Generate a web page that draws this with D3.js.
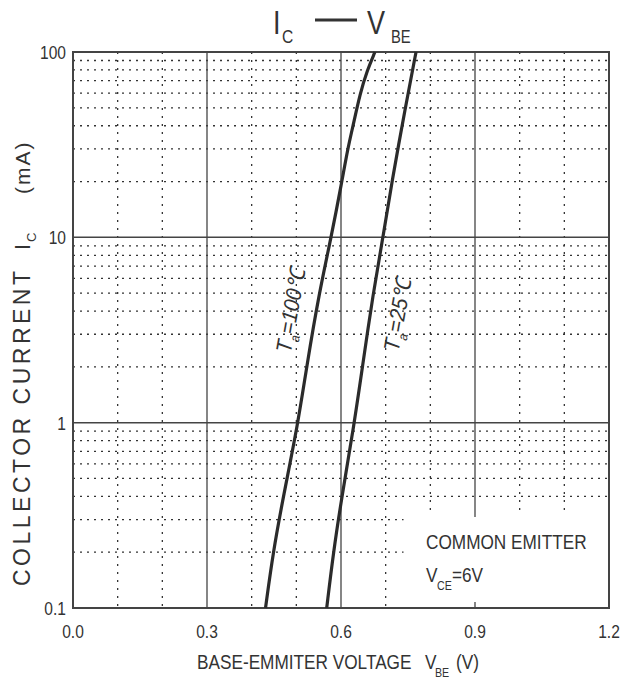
<!DOCTYPE html>
<html>
<head>
<meta charset="utf-8">
<script src="https://cdn.jsdelivr.net/npm/d3@7"></script>
<style>
  body { margin: 0; background: #fff; }
  svg { display: block; }
  text { fill: #333; font-family: "Liberation Sans", Arial, sans-serif; white-space: pre; }
</style>
</head>
<body>
<svg width="620" height="682"></svg>
<script>
// Ic - Vbe curves

// collector current (mA) and base-emitter voltage (V) for each temperature
var ic100 = [0.1, 0.2, 0.4, 1, 2, 5, 10, 20, 30, 40, 60, 80, 100];
var vbe100 = [0.431, 0.448, 0.471, 0.504, 0.523, 0.551, 0.578, 0.602, 0.615, 0.627, 0.643, 0.659, 0.676];

var ic25 = [0.1, 0.2, 0.4, 1, 2, 5, 10, 20, 50, 100];
var vbe25 = [0.568, 0.583, 0.602, 0.630, 0.648, 0.672, 0.694, 0.714, 0.744, 0.768];

var xTicks = [0.0, 0.3, 0.6, 0.9, 1.2];
var yTicks = [0.1, 1, 10, 100];

var svg = d3.select('svg');

var pLeft = 73, pRight = 609, pTop = 52, pBottom = 608;
var squeeze = 0.82; // narrow look of the datasheet font

var x = d3.scaleLinear().domain([0, 1.2]).range([pLeft, pRight]);
var y = d3.scaleLog().domain([0.1, 100]).range([pBottom, pTop]);

// text drawn narrow: placed by transform then squeezed
function narrowText(px, py, size) {
    return svg.append('text')
        .attr('transform', 'translate(' + px + ',' + py + ') scale(' + squeeze + ',1)')
        .style('font-size', size + 'px');
}

var grid = svg.append('g');

// minor horizontal dotted lines (2..9 in every decade)
var minorY = [];
[0.1, 1, 10].forEach(function (d) {
    for (var k = 2; k <= 9; k++) minorY.push(+(k * d).toFixed(3));
});

grid.selectAll('line.hmin')
    .data(minorY)
    .enter()
    .append('line')
    .attr('x1', x(0))
    .attr('x2', function (d) { return d < 0.35 ? x(0.74) : x(1.2); })
    .attr('y1', function (d) { return y(d); })
    .attr('y2', function (d) { return y(d); })
    .style('stroke', '#333')
    .style('stroke-width', 1.3)
    .style('stroke-dasharray', '2,5');

// minor vertical dotted lines
var minorX = [0.1, 0.2, 0.4, 0.5, 0.7, 0.8, 1.0, 1.1];

grid.selectAll('line.vmin')
    .data(minorX)
    .enter()
    .append('line')
    .attr('x1', function (d) { return x(d); })
    .attr('x2', function (d) { return x(d); })
    .attr('y1', y(100))
    .attr('y2', function (d) { return d > 0.75 ? y(0.32) : y(0.1); })
    .style('stroke', '#333')
    .style('stroke-width', 1.3)
    .style('stroke-dasharray', '2,6');

// solid grid lines
grid.selectAll('line.hmaj')
    .data([1, 10])
    .enter()
    .append('line')
    .attr('x1', x(0))
    .attr('x2', x(1.2))
    .attr('y1', function (d) { return y(d); })
    .attr('y2', function (d) { return y(d); })
    .style('stroke', '#444')
    .style('stroke-width', 1.5);

grid.selectAll('line.vmaj')
    .data([0.3, 0.6, 0.9])
    .enter()
    .append('line')
    .attr('x1', function (d) { return x(d); })
    .attr('x2', function (d) { return x(d); })
    .attr('y1', y(100))
    .attr('y2', function (d) { return d > 0.75 ? y(0.31) : y(0.1); })
    .style('stroke', '#444')
    .style('stroke-width', 1.3);

// little tick at 0.9 on the bottom edge
grid.append('line')
    .attr('x1', x(0.9))
    .attr('x2', x(0.9))
    .attr('y1', y(0.1))
    .attr('y2', y(0.1) - 6)
    .style('stroke', '#444')
    .style('stroke-width', 1.3);

// frame
svg.append('rect')
    .attr('x', pLeft)
    .attr('y', pTop)
    .attr('width', pRight - pLeft)
    .attr('height', pBottom - pTop)
    .style('fill', 'none')
    .style('stroke', '#444')
    .style('stroke-width', 2);

// curves
var line = d3.line()
    .x(function (d) { return x(d[0]); })
    .y(function (d) { return y(d[1]); })
    .curve(d3.curveBasis);

[[vbe100, ic100], [vbe25, ic25]].forEach(function (s) {
    svg.append('path')
        .datum(d3.zip(s[0], s[1]))
        .attr('d', line)
        .style('fill', 'none')
        .style('stroke', '#2b2b2b')
        .style('stroke-width', 3.2);
});

// tick labels
xTicks.forEach(function (d) {
    narrowText(x(d), 638, 19)
        .attr('text-anchor', 'middle')
        .text(d.toFixed(1));
});

yTicks.forEach(function (d) {
    narrowText(66, y(d) + 7, 19)
        .attr('text-anchor', 'end')
        .text(d);
});

// x axis title
narrowText(197, 669, 21).text('BASE-EMMITER VOLTAGE');
narrowText(425, 669, 21).text('V');
narrowText(435, 677, 13).text('BE');
narrowText(456, 669, 21).text('(V)');

// y axis title, rotated
function sideText(py, size, spacing) {
    return svg.append('text')
        .attr('transform', 'translate(30,' + py + ') rotate(-90)')
        .style('font-size', size + 'px')
        .style('letter-spacing', spacing + 'px');
}
sideText(586, 23, 3.5).text('COLLECTOR CURRENT');
sideText(250, 22, 0).text('I');
svg.append('text')
    .attr('transform', 'translate(36,242) rotate(-90)')
    .style('font-size', '13px')
    .text('C');
sideText(194, 21, 2).text('(mA)');

// title
narrowText(273, 34, 33).text('I');
narrowText(282, 43, 19).text('C');
svg.append('line')
    .attr('x1', 315).attr('x2', 357)
    .attr('y1', 20).attr('y2', 20)
    .style('stroke', '#333')
    .style('stroke-width', 3);
narrowText(367, 34, 33).text('V');
narrowText(391, 43, 18).text('BE');

// curve labels
function tempLabel(cx, cy, t) {
    var g = svg.append('text')
        .attr('transform', 'translate(' + cx + ',' + cy + ') rotate(-80) scale(0.92,1)')
        .attr('text-anchor', 'middle')
        .style('font-size', '22px');
    g.append('tspan').style('font-style', 'italic').text('T');
    g.append('tspan').attr('dy', 6).style('font-size', '13px').style('font-style', 'italic').text('a');
    g.append('tspan').attr('dy', -6).style('font-style', 'italic').text('=' + t + '℃');
}
tempLabel(298, 312, 100);
tempLabel(405, 316, 25);

// note
narrowText(426, 549, 21).text('COMMON EMITTER');
narrowText(426, 582, 21).text('V');
narrowText(437, 590, 13).text('CE');
narrowText(452, 582, 21).text('=6V');
</script>
</body>
</html>
